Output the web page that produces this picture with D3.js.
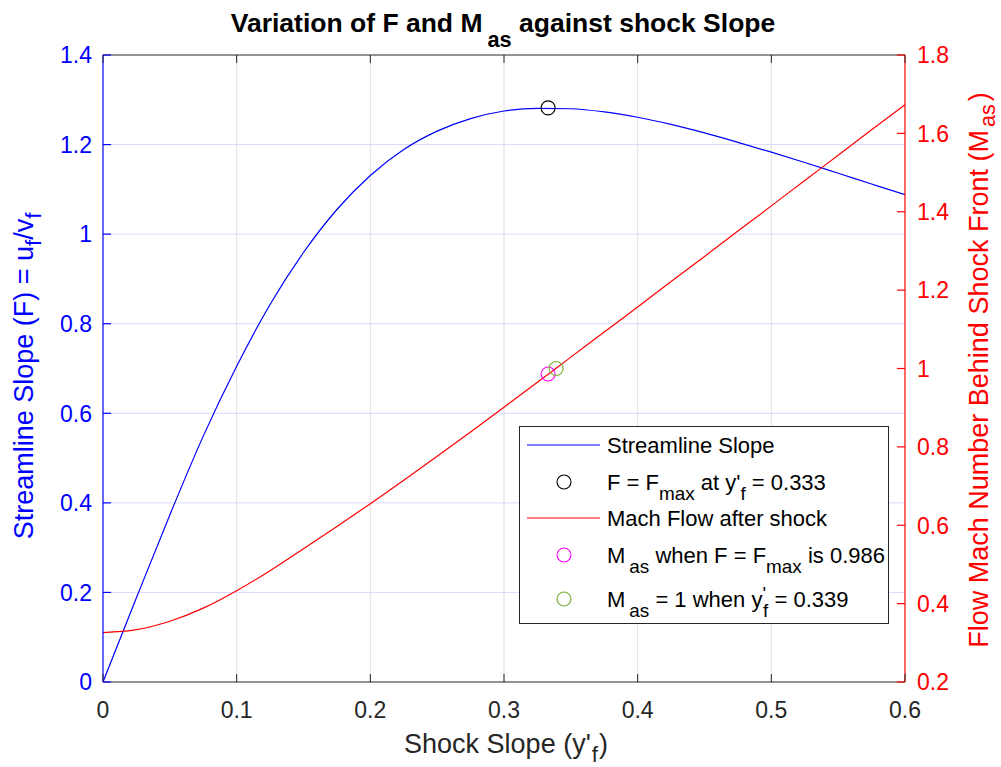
<!DOCTYPE html>
<html>
<head>
<meta charset="utf-8">
<script src="https://cdn.jsdelivr.net/npm/d3@7"></script>
<style>
  html, body { margin: 0; padding: 0; background: #fff; }
  svg text { font-family: "Liberation Sans", Arial, Helvetica, sans-serif; white-space: pre; }
</style>
</head>
<body>
<svg id="chart" width="1001" height="767"></svg>
<script>
// ---------------- data ----------------
const shockSlope = [0, 0.025, 0.05, 0.075, 0.1, 0.125, 0.15, 0.175, 0.2, 0.225, 0.25, 0.275,
  0.3, 0.325, 0.35, 0.375, 0.4, 0.425, 0.45, 0.475, 0.5, 0.525, 0.55, 0.575, 0.6];
const streamSlope = [0, 0.188, 0.373, 0.549, 0.705, 0.843, 0.959, 1.055, 1.131, 1.189, 1.230, 1.258,
  1.275, 1.281, 1.280, 1.273, 1.261, 1.245, 1.226, 1.205, 1.183, 1.160, 1.136, 1.112, 1.088];
const machAfter = [0.326, 0.3335, 0.355, 0.3885, 0.433, 0.484, 0.540, 0.597, 0.655, 0.715, 0.776, 0.838,
  0.901, 0.965, 1.029, 1.093, 1.157, 1.222, 1.286, 1.351, 1.415, 1.480, 1.544, 1.609, 1.673];
const fMaxPoint = { x: 0.333, y: 1.282 };
const machAtFmax = { x: 0.333, y: 0.986 };
const machUnity = { x: 0.339, y: 1.0 };

const xTicks = [0, 0.1, 0.2, 0.3, 0.4, 0.5, 0.6];
const xTickLabels = ["0", "0.1", "0.2", "0.3", "0.4", "0.5", "0.6"];
const leftTicks = [0, 0.2, 0.4, 0.6, 0.8, 1.0, 1.2, 1.4];
const leftTickLabels = ["0", "0.2", "0.4", "0.6", "0.8", "1", "1.2", "1.4"];
const rightTicks = [0.2, 0.4, 0.6, 0.8, 1.0, 1.2, 1.4, 1.6, 1.8];
const rightTickLabels = ["0.2", "0.4", "0.6", "0.8", "1", "1.2", "1.4", "1.6", "1.8"];

// ---------------- layout ----------------
const L = 103, R = 905, T = 55, B = 682;
const BLUE = "#0000ff", RED = "#ff0000", DARK = "#262626";
const svg = d3.select("#chart");

const x = d3.scaleLinear().domain([0, 0.6]).range([L, R]);
const yL = d3.scaleLinear().domain([0, 1.4]).range([B, T]);
const yR = d3.scaleLinear().domain([0.2, 1.8]).range([B, T]);

// rich text helper: parts = [{t, s:'sub'|'sup'|undefined, dx}]
function rich(sel, parts, size, subScale, shift) {
  let cur = 0;
  parts.forEach(p => {
    const target = p.s === "sub" ? shift : (p.s === "sup" ? -shift * 0.7 : 0);
    const ts = sel.append("tspan").text(p.t)
      .attr("font-size", p.s ? size * subScale : size);
    if (target !== cur) ts.attr("dy", target - cur);
    if (p.dx) ts.attr("dx", p.dx);
    cur = target;
  });
  return sel;
}

// ---------------- grid ----------------
svg.append("g").selectAll("line").data(xTicks.filter(d => d > 0 && d < 0.6)).join("line")
  .attr("x1", d => x(d)).attr("x2", d => x(d)).attr("y1", T).attr("y2", B)
  .attr("stroke", "#dfdfdf").attr("stroke-width", 1);
svg.append("g").selectAll("line").data(leftTicks.filter(d => d > 0 && d < 1.4)).join("line")
  .attr("x1", L).attr("x2", R).attr("y1", d => yL(d)).attr("y2", d => yL(d))
  .attr("stroke", "#d9d9ff").attr("stroke-width", 1);

// ---------------- curves ----------------
const lineF = d3.line().x((d, i) => x(shockSlope[i])).y(d => yL(d)).curve(d3.curveMonotoneX);
const lineM = d3.line().x((d, i) => x(shockSlope[i])).y(d => yR(d)).curve(d3.curveMonotoneX);
svg.append("clipPath").attr("id", "clip").append("rect")
  .attr("x", L).attr("y", T).attr("width", R - L).attr("height", B - T);
svg.append("path").datum(streamSlope).attr("d", lineF).attr("fill", "none")
  .attr("stroke", BLUE).attr("stroke-width", 1.2).attr("clip-path", "url(#clip)");
svg.append("path").datum(machAfter).attr("d", lineM).attr("fill", "none")
  .attr("stroke", RED).attr("stroke-width", 1.2).attr("clip-path", "url(#clip)");

// markers
const MR = 7;
svg.append("circle").attr("cx", x(fMaxPoint.x)).attr("cy", yL(fMaxPoint.y)).attr("r", MR)
  .attr("fill", "none").attr("stroke", "#000").attr("stroke-width", 1.1);
svg.append("circle").attr("cx", x(machAtFmax.x)).attr("cy", yR(machAtFmax.y)).attr("r", MR)
  .attr("fill", "none").attr("stroke", "#ff00ff").attr("stroke-width", 1.1);
svg.append("circle").attr("cx", x(machUnity.x)).attr("cy", yR(machUnity.y)).attr("r", MR)
  .attr("fill", "none").attr("stroke", "#77ac30").attr("stroke-width", 1.1);

// ---------------- axes ----------------
const TICK = 8;
svg.append("line").attr("x1", L).attr("x2", R).attr("y1", B).attr("y2", B).attr("stroke", DARK).attr("stroke-width", 1);
svg.append("line").attr("x1", L).attr("x2", R).attr("y1", T).attr("y2", T).attr("stroke", DARK).attr("stroke-width", 1);
svg.append("line").attr("x1", L).attr("x2", L).attr("y1", T).attr("y2", B).attr("stroke", BLUE).attr("stroke-width", 1.2);
svg.append("line").attr("x1", R).attr("x2", R).attr("y1", T).attr("y2", B).attr("stroke", RED).attr("stroke-width", 1.2);

const xt = svg.append("g");
xt.selectAll("line.b").data(xTicks).join("line").attr("class", "b")
  .attr("x1", d => x(d)).attr("x2", d => x(d)).attr("y1", B).attr("y2", B - TICK).attr("stroke", DARK);
xt.selectAll("line.t").data(xTicks).join("line").attr("class", "t")
  .attr("x1", d => x(d)).attr("x2", d => x(d)).attr("y1", T).attr("y2", T + TICK).attr("stroke", DARK);
xt.selectAll("text").data(xTicks).join("text")
  .attr("x", d => x(d)).attr("y", 718).attr("text-anchor", "middle")
  .attr("font-size", 23).attr("fill", DARK).text((d, i) => xTickLabels[i]);

const lt = svg.append("g");
lt.selectAll("line").data(leftTicks).join("line")
  .attr("x1", L).attr("x2", L + TICK).attr("y1", d => yL(d)).attr("y2", d => yL(d)).attr("stroke", BLUE).attr("stroke-width", 1.2);
lt.selectAll("text").data(leftTicks).join("text")
  .attr("x", 92).attr("y", d => yL(d)).attr("dy", "0.36em").attr("text-anchor", "end")
  .attr("font-size", 23).attr("fill", BLUE).text((d, i) => leftTickLabels[i]);

const rt = svg.append("g");
rt.selectAll("line").data(rightTicks).join("line")
  .attr("x1", R).attr("x2", R - TICK).attr("y1", d => yR(d)).attr("y2", d => yR(d)).attr("stroke", RED).attr("stroke-width", 1.2);
rt.selectAll("text").data(rightTicks).join("text")
  .attr("x", 917).attr("y", d => yR(d)).attr("dy", "0.36em").attr("text-anchor", "start")
  .attr("font-size", 23).attr("fill", RED).text((d, i) => rightTickLabels[i]);

// ---------------- labels ----------------
rich(svg.append("text").attr("x", 503).attr("y", 32).attr("text-anchor", "middle")
  .attr("font-weight", "bold").attr("fill", "#000"),
  [{ t: "Variation of F and M" }, { t: "as", s: "sub", dx: 5 }, { t: " against shock Slope" }], 26.5, 0.82, 15);

rich(svg.append("text").attr("x", 506).attr("y", 753).attr("text-anchor", "middle").attr("fill", DARK),
  [{ t: "Shock Slope (y'" }, { t: "f", s: "sub", dx: 1 }, { t: ")", dx: 1 }], 27, 0.82, 9);

rich(svg.append("text").attr("transform", "translate(33,376) rotate(-90)").attr("text-anchor", "middle").attr("fill", BLUE),
  [{ t: "Streamline Slope (F) = u" }, { t: "f", s: "sub" }, { t: "/v" }, { t: "f", s: "sub" }], 27, 0.82, 8);

rich(svg.append("text").attr("transform", "translate(988,370) rotate(-90)").attr("text-anchor", "middle").attr("fill", RED),
  [{ t: "Flow Mach Number Behind Shock Front (M" }, { t: "as", s: "sub", dx: 3 }, { t: ")", dx: 3 }], 27, 0.8, 6.5);

// ---------------- legend ----------------
const lg = svg.append("g");
lg.append("rect").attr("x", 519.5).attr("y", 426.5).attr("width", 369).attr("height", 197)
  .attr("fill", "#fff").attr("stroke", DARK).attr("stroke-width", 1);
const LS = 22, TX = 607;
const rows = [
  { y: 445, kind: "line", color: BLUE, parts: [{ t: "Streamline Slope" }] },
  { y: 482, kind: "circle", color: "#000", parts: [{ t: "F = F" }, { t: "max", s: "sub" }, { t: " at y'" }, { t: "f", s: "sub" }, { t: " = 0.333" }] },
  { y: 518, kind: "line", color: RED, parts: [{ t: "Mach Flow after shock" }] },
  { y: 555, kind: "circle", color: "#ff00ff", parts: [{ t: "M" }, { t: "as", s: "sub", dx: 4 }, { t: " when F = F" }, { t: "max", s: "sub" }, { t: " is 0.986" }] },
  { y: 599, kind: "circle", color: "#77ac30", parts: [{ t: "M" }, { t: "as", s: "sub", dx: 4 }, { t: " = 1 when y" }, { t: "'", s: "sup" }, { t: "f", s: "sub", dx: -3 }, { t: " = 0.339" }] }
];
rows.forEach(r => {
  if (r.kind === "line") {
    lg.append("line").attr("x1", 527).attr("x2", 600).attr("y1", r.y).attr("y2", r.y)
      .attr("stroke", r.color).attr("stroke-width", 1.2);
  } else {
    lg.append("circle").attr("cx", 564).attr("cy", r.y).attr("r", MR)
      .attr("fill", "none").attr("stroke", r.color).attr("stroke-width", 1.1);
  }
  rich(lg.append("text").attr("x", TX).attr("y", r.y + 8).attr("fill", "#000"), r.parts, LS, 0.86, 9.5);
});
</script>
</body>
</html>
